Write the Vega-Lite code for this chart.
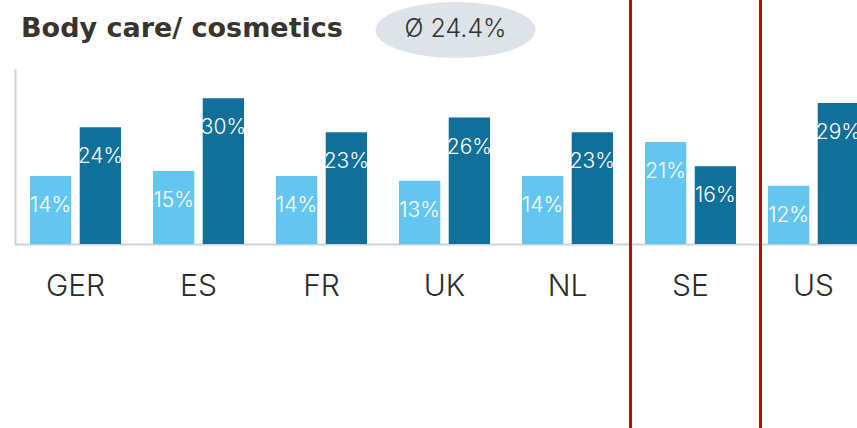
{
  "$schema": "https://vega.github.io/schema/vega-lite/v6.json",
  "width": 857,
  "height": 428,
  "autosize": {"type": "none"},
  "padding": 0,
  "background": "white",
  "config": {"view": {"stroke": null}, "font": "Inter"},
  "title": {
    "text": "Body care/ cosmetics",
    "anchor": "start",
    "frame": "group",
    "orient": "top",
    "offset": 0,
    "baseline": "alphabetic",
    "dx": 21,
    "dy": 65,
    "fontSize": 27,
    "fontWeight": "bold",
    "color": "#3a342f",
    "font": "DejaVu Sans"
  },
  "datasets": {
    "bars": [
      {"country": "GER", "group": "Group 1", "share": 0.14},
      {"country": "GER", "group": "Group 2", "share": 0.24},
      {"country": "ES", "group": "Group 1", "share": 0.15},
      {"country": "ES", "group": "Group 2", "share": 0.30},
      {"country": "FR", "group": "Group 1", "share": 0.14},
      {"country": "FR", "group": "Group 2", "share": 0.23},
      {"country": "UK", "group": "Group 1", "share": 0.13},
      {"country": "UK", "group": "Group 2", "share": 0.26},
      {"country": "NL", "group": "Group 1", "share": 0.14},
      {"country": "NL", "group": "Group 2", "share": 0.23},
      {"country": "SE", "group": "Group 1", "share": 0.21},
      {"country": "SE", "group": "Group 2", "share": 0.16},
      {"country": "US", "group": "Group 1", "share": 0.12},
      {"country": "US", "group": "Group 2", "share": 0.29}
    ],
    "badge": [{"country": "UK", "label": "Ø 24.4%"}],
    "marker": [{"country": "SE"}]
  },
  "encoding": {
    "x": {
      "field": "country",
      "type": "nominal",
      "sort": ["GER", "ES", "FR", "UK", "NL", "SE", "US"],
      "scale": {"range": [14, 875], "paddingInner": 0.26, "paddingOuter": 0.13},
      "axis": {
        "title": null,
        "orient": "bottom",
        "offset": -184,
        "ticks": false,
        "domainColor": "#c9d3da",
        "domainWidth": 2,
        "labelFont": "Inter",
        "labelFontSize": 30,
        "labelFontWeight": 300,
        "labelColor": "#2b2b2b",
        "labelBaseline": "alphabetic",
        "labelPadding": 51,
        "labelAngle": 0
      }
    }
  },
  "layer": [
    {
      "data": {"name": "bars"},
      "mark": {"type": "bar", "clip": false},
      "encoding": {
        "xOffset": {"field": "group", "type": "nominal", "scale": {"paddingInner": 0.17}},
        "y": {
          "field": "share",
          "type": "quantitative",
          "scale": {"domain": [0, 0.36], "range": [244, 69], "nice": false, "zero": true},
          "axis": {
            "title": null,
            "labels": false,
            "ticks": false,
            "grid": false,
            "offset": -15,
            "domainColor": "#c9d3da",
            "domainWidth": 2
          }
        },
        "color": {
          "field": "group",
          "type": "nominal",
          "scale": {"range": ["#64c6f0", "#11709a"]},
          "legend": null
        }
      }
    },
    {
      "data": {"name": "bars"},
      "mark": {
        "type": "text",
        "baseline": "middle",
        "align": "center",
        "dy": 30,
        "color": "white",
        "font": "Inter",
        "fontSize": 21,
        "fontWeight": 300
      },
      "encoding": {
        "xOffset": {"field": "group", "type": "nominal", "scale": {"paddingInner": 0.17}},
        "y": {"field": "share", "type": "quantitative"},
        "text": {"field": "share", "type": "quantitative", "format": ".0%"}
      }
    },
    {
      "data": {"name": "marker"},
      "mark": {"type": "rule", "color": "#d00000", "strokeWidth": 3, "xOffset": -60},
      "encoding": {}
    },
    {
      "data": {"name": "marker"},
      "mark": {"type": "rule", "color": "#d00000", "strokeWidth": 3, "xOffset": 70},
      "encoding": {}
    },
    {
      "data": {"name": "badge"},
      "mark": {
        "type": "point",
        "filled": true,
        "color": "#dde3e8",
        "opacity": 1,
        "shape": "M-1,0A1,0.35,0,1,0,1,0A1,0.35,0,1,0,-1,0Z",
        "size": 25600,
        "xOffset": 11,
        "y": 30
      },
      "encoding": {}
    },
    {
      "data": {"name": "badge"},
      "mark": {
        "type": "text",
        "align": "center",
        "baseline": "middle",
        "xOffset": 11,
        "y": 29,
        "font": "Inter",
        "fontSize": 25,
        "fontWeight": 300,
        "color": "#333333"
      },
      "encoding": {"text": {"field": "label"}}
    }
  ]
}
